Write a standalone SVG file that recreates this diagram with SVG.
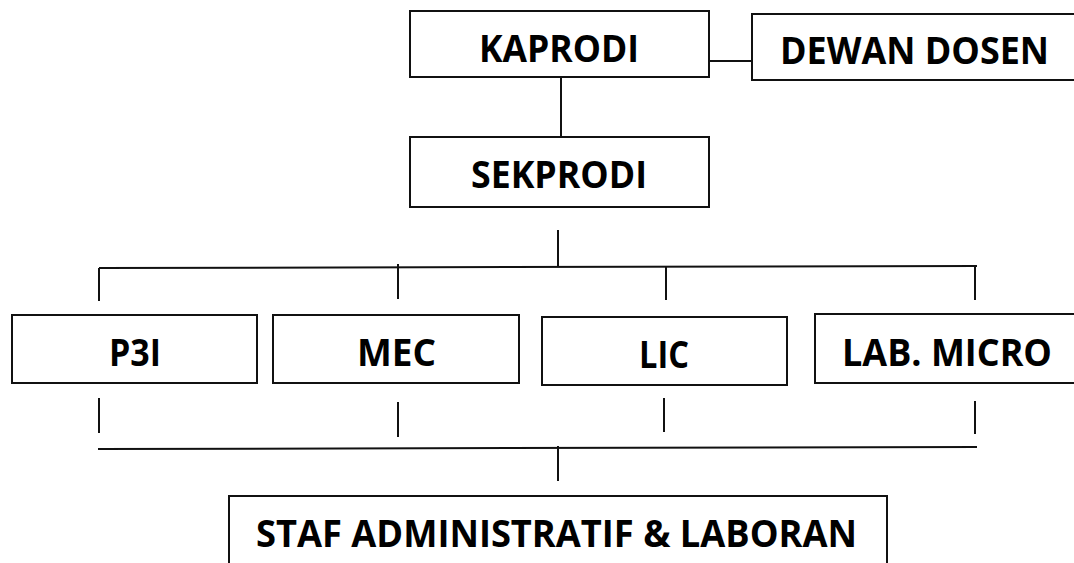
<svg xmlns="http://www.w3.org/2000/svg" width="1074" height="563" viewBox="0 0 1074 563">
<style>
.box{fill:#fff;stroke:#111;stroke-width:2}
.lbl{font-family:"Open Sans","Liberation Sans",sans-serif;font-weight:700;font-size:37px;fill:#000;text-anchor:middle}
.ln{stroke:#111;stroke-width:2;fill:none}
</style>
<rect width="1074" height="563" fill="#fff"/>
<g id="connectors">
<line class="ln" x1="709" y1="61" x2="752" y2="61"/>
<line class="ln" x1="561" y1="77" x2="561" y2="137"/>
<line class="ln" x1="558" y1="230" x2="558" y2="266"/>
<path class="ln" d="M99 268 L977 266"/>
<line class="ln" x1="99" y1="268" x2="99" y2="301"/>
<line class="ln" x1="398" y1="264" x2="398" y2="299"/>
<line class="ln" x1="666" y1="266" x2="666" y2="300"/>
<line class="ln" x1="975" y1="266" x2="975" y2="300"/>
<line class="ln" x1="99" y1="398" x2="99" y2="433"/>
<line class="ln" x1="398" y1="402" x2="398" y2="437"/>
<line class="ln" x1="664" y1="398" x2="664" y2="432"/>
<line class="ln" x1="975" y1="401" x2="975" y2="434"/>
<path class="ln" d="M98 449 L977 447"/>
<line class="ln" x1="558" y1="446" x2="558" y2="481"/>
</g>
<g id="kaprodi"><rect class="box" x="410" y="11" width="299" height="66"/><text class="lbl" x="559" y="62" textLength="160" lengthAdjust="spacingAndGlyphs">KAPRODI</text></g>
<g id="dewan-dosen"><rect class="box" x="752" y="14" width="340" height="66"/><text class="lbl" x="914.5" y="64" textLength="269" lengthAdjust="spacingAndGlyphs">DEWAN DOSEN</text></g>
<g id="sekprodi"><rect class="box" x="410" y="137" width="299" height="70"/><text class="lbl" x="559" y="188" textLength="176" lengthAdjust="spacingAndGlyphs">SEKPRODI</text></g>
<g id="p3i"><rect class="box" x="12" y="315" width="245" height="68"/><text class="lbl" x="135" y="366" textLength="52" lengthAdjust="spacingAndGlyphs">P3I</text></g>
<g id="mec"><rect class="box" x="273" y="315" width="246" height="68"/><text class="lbl" x="396.5" y="366" textLength="79" lengthAdjust="spacingAndGlyphs">MEC</text></g>
<g id="lic"><rect class="box" x="542" y="317" width="245" height="68"/><text class="lbl" x="664" y="368" textLength="50" lengthAdjust="spacingAndGlyphs">LIC</text></g>
<g id="lab-micro"><rect class="box" x="815" y="314" width="280" height="69"/><text class="lbl" x="947" y="366" textLength="210" lengthAdjust="spacingAndGlyphs">LAB. MICRO</text></g>
<g id="staf"><rect class="box" x="229" y="496" width="658" height="90"/><text class="lbl" x="556.5" y="547" textLength="601" lengthAdjust="spacingAndGlyphs">STAF ADMINISTRATIF &amp; LABORAN</text></g>
</svg>
